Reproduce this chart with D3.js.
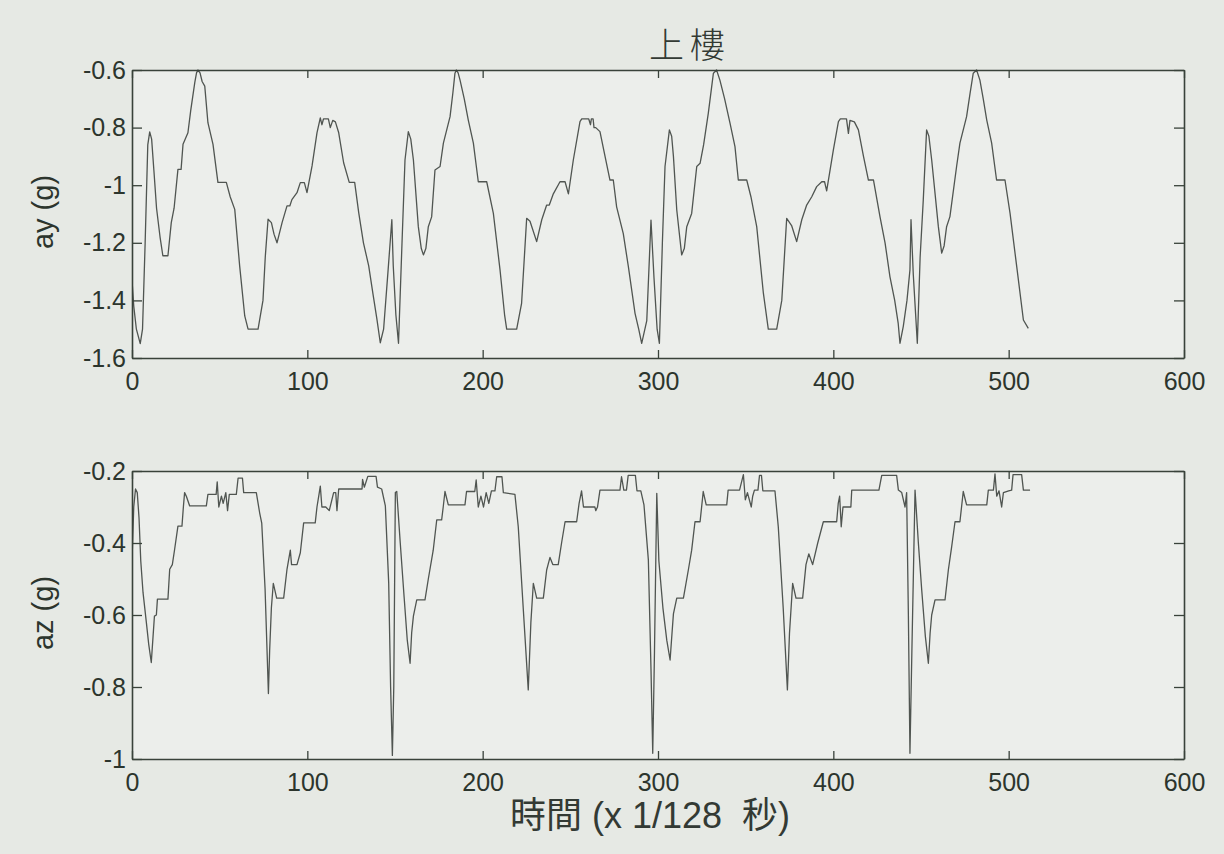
<!DOCTYPE html>
<html>
<head>
<meta charset="utf-8">
<script src="https://cdn.jsdelivr.net/npm/d3@7"></script>
<style>
  html, body { margin: 0; padding: 0; background: #e6e9e4; }
  svg { display: block; }
</style>
</head>
<body>
<svg id="chart" width="1224" height="854"></svg>
<script>
// Accelerometer trace while climbing stairs: vertices of the ay and az curves (sample index, g)
const ayX = [0,1,2.5,4.7,6,7.5,9,10.1,11.2,12.5,14,16,17.6,20.5,22.4,24,26.2,28,29.1,31.9,33.5,35.8,36.8,37.6,38.8,40,41.5,43.3,46.2,49,53.8,56,58.6,61.4,64.3,66.2,71.9,74.7,76,77.6,79.5,81,82.7,85.6,88.4,90,91.2,94.1,96,98.3,99.8,102.7,105.5,107.4,108.3,109.2,112,113.1,114.5,116,117.9,120.7,123.9,127,129.3,132,135,137.5,139.7,141.6,143.5,146,148.2,149,150.5,152,
  154,155.7,157.6,159,160.5,163.3,165,166.2,167.6,169,170.9,172.8,175.7,177.6,181.4,183,184.2,185,186,187.1,189.5,191.8,194.7,197.5,202.3,206.1,209.9,212.5,213.7,219.4,222.2,225.1,227,230.8,233.7,236.5,238,240.3,244.1,247,248.9,251.7,255.5,256.5,260.5,261.5,262,263,263.5,264.5,266.9,269.8,272.6,274.5,276.4,280.2,283.1,286.9,289,290.7,293.6,296,297.7,299.5,300.8,
  302.5,304,306.5,307.8,308.8,310.7,313.5,315,316.4,319.2,322.1,324,326,328.7,331.6,333.4,335.3,338,341.1,343.9,345.8,350.6,353,356.3,360.1,362.9,367.7,370.6,373.4,376.2,379.1,382,384.8,387.7,390.5,393.4,395,396.2,400,402.9,404,407.5,408.6,409.5,412,414.3,417.2,420,422.9,426.6,429.5,432.3,435,437,438,439.9,442,443.7,444.3,445.6,447.9,
  449.5,451.3,453.2,454.5,456.1,459.9,461.8,463.2,464.6,466.5,470.3,472.2,476,478,479.8,481.7,483.6,485.5,487.5,490.3,493.1,497.9,500.8,504.6,508.4,511.2];
const ayY = [-1.33,-1.42,-1.50,-1.55,-1.50,-1.20,-0.86,-0.815,-0.84,-0.95,-1.08,-1.18,-1.245,-1.245,-1.13,-1.08,-0.945,-0.945,-0.858,-0.818,-0.74,-0.644,-0.61,-0.60,-0.61,-0.64,-0.656,-0.783,-0.858,-0.99,-0.99,-1.04,-1.084,-1.28,-1.454,-1.50,-1.50,-1.40,-1.25,-1.118,-1.13,-1.17,-1.20,-1.13,-1.072,-1.072,-1.05,-1.026,-0.991,-0.991,-1.026,-0.933,-0.818,-0.766,-0.79,-0.77,-0.77,-0.80,-0.775,-0.78,-0.818,-0.922,-0.99,-0.99,-1.095,-1.20,-1.28,-1.38,-1.466,-1.547,-1.50,-1.30,-1.12,-1.28,-1.45,-1.549,
  -1.20,-0.9125,-0.814,-0.84,-0.9125,-1.144,-1.22,-1.242,-1.22,-1.144,-1.11,-0.947,-0.935,-0.854,-0.762,-0.68,-0.611,-0.60,-0.61,-0.635,-0.70,-0.774,-0.854,-0.988,-0.988,-1.098,-1.294,-1.45,-1.50,-1.50,-1.41,-1.115,-1.125,-1.196,-1.12,-1.069,-1.069,-1.03,-0.988,-0.988,-1.03,-0.9125,-0.779,-0.77,-0.77,-0.79,-0.77,-0.77,-0.80,-0.80,-0.814,-0.90,-0.982,-0.982,-1.075,-1.168,-1.283,-1.445,-1.50,-1.549,-1.47,-1.121,-1.32,-1.50,-1.549,
  -1.20,-0.935,-0.808,-0.83,-0.90,-1.086,-1.242,-1.22,-1.144,-1.098,-0.935,-0.924,-0.86,-0.75,-0.611,-0.60,-0.635,-0.70,-0.785,-0.866,-0.982,-0.982,-1.04,-1.144,-1.375,-1.50,-1.50,-1.40,-1.115,-1.14,-1.196,-1.12,-1.069,-1.04,-1.005,-0.988,-0.988,-1.02,-0.878,-0.779,-0.77,-0.77,-0.82,-0.775,-0.78,-0.808,-0.90,-0.982,-0.982,-1.109,-1.20,-1.318,-1.40,-1.48,-1.549,-1.49,-1.40,-1.294,-1.12,-1.31,-1.549,
  -1.25,-1.051,-0.808,-0.83,-0.9125,-1.144,-1.236,-1.21,-1.144,-1.109,-0.935,-0.854,-0.762,-0.68,-0.611,-0.60,-0.635,-0.70,-0.774,-0.854,-0.982,-0.982,-1.098,-1.283,-1.468,-1.497];

const azX = [0,1,2,3,4,5,6.3,8.2,9.5,11,12,12.8,13.9,14.5,20.5,21.5,23,24.3,26.2,28.5,29.3,30,31,32.9,42.4,43.3,48,48.6,49.5,51,52,53.5,54.5,55.5,59.5,60.5,63,63.7,70.9,72.8,74,75.9,77.8,78.5,79.5,80.6,82.5,86.5,88.4,90.3,91,94.1,96,97.9,104.5,105.5,106.5,107.4,108.3,110.5,112.5,114,115,116.2,116.9,117.9,131.2,131.5,132.5,134.5,139.2,140,142.4,144.5,146.4,147.5,148.5,149.3,150.2,
  151,153,155.2,157,158.6,159.5,160.5,162.4,167.1,169,171.8,173.8,176.6,177.5,178.5,180.4,189.9,190.8,195.5,196.3,197.5,199,200.5,202,203.5,205,207,208,211,211.8,218.4,220.3,223.2,226,227.5,228.9,230.8,234.6,236.5,238.4,240,243.1,245,247,253.6,255,256.4,257.5,264,264.5,265.5,266.9,278.3,279.2,280.5,282,283,287.1,288,290.2,292,294.5,296,297,298,299.3,
  300.5,302.8,305,306.9,308,308.8,310.7,314.5,317.3,319.2,321.1,324,325.8,327.5,339.2,340,346.5,348.7,349.8,351,353.2,354,355,357,357.9,359,359.8,366.7,368.6,371.4,373.8,375,376.8,378.7,382.5,384.4,386,388.2,391.1,394.3,401.9,402.8,403.6,404.5,405.5,410,410.5,426,427.6,436.1,437.1,439,440.9,441.8,442.8,443.7,444.8,446.6,
  448.5,450.4,452.5,454.2,455.2,456.1,458,463.7,465.6,467.5,469.4,472.2,474.1,476,487.5,488.4,491.3,492.2,493.2,494.5,496,497,500,501.7,502.5,507.4,508.4,512.2];
const azY = [-0.45,-0.30,-0.25,-0.26,-0.33,-0.45,-0.538,-0.621,-0.68,-0.732,-0.66,-0.603,-0.60,-0.556,-0.556,-0.473,-0.46,-0.418,-0.353,-0.353,-0.30,-0.26,-0.27,-0.297,-0.297,-0.265,-0.265,-0.23,-0.30,-0.27,-0.29,-0.26,-0.31,-0.265,-0.265,-0.22,-0.22,-0.26,-0.26,-0.316,-0.345,-0.528,-0.818,-0.70,-0.58,-0.512,-0.553,-0.553,-0.473,-0.42,-0.46,-0.46,-0.427,-0.344,-0.344,-0.30,-0.27,-0.242,-0.30,-0.30,-0.31,-0.28,-0.26,-0.26,-0.31,-0.25,-0.25,-0.223,-0.245,-0.215,-0.215,-0.245,-0.25,-0.297,-0.51,-0.80,-0.99,-0.80,-0.26,
  -0.257,-0.40,-0.55,-0.67,-0.734,-0.65,-0.603,-0.558,-0.558,-0.50,-0.42,-0.336,-0.336,-0.30,-0.257,-0.294,-0.294,-0.257,-0.257,-0.225,-0.30,-0.27,-0.30,-0.26,-0.29,-0.255,-0.255,-0.216,-0.216,-0.26,-0.265,-0.355,-0.586,-0.808,-0.62,-0.512,-0.553,-0.553,-0.475,-0.44,-0.46,-0.46,-0.40,-0.341,-0.341,-0.29,-0.255,-0.30,-0.30,-0.31,-0.30,-0.253,-0.253,-0.216,-0.253,-0.253,-0.212,-0.212,-0.255,-0.255,-0.294,-0.447,-0.75,-0.984,-0.70,-0.262,
  -0.45,-0.58,-0.67,-0.725,-0.65,-0.597,-0.553,-0.553,-0.475,-0.42,-0.341,-0.341,-0.257,-0.294,-0.294,-0.253,-0.253,-0.21,-0.28,-0.26,-0.30,-0.27,-0.253,-0.253,-0.212,-0.212,-0.255,-0.255,-0.355,-0.58,-0.808,-0.65,-0.512,-0.553,-0.553,-0.46,-0.43,-0.46,-0.40,-0.341,-0.341,-0.29,-0.27,-0.355,-0.30,-0.30,-0.253,-0.253,-0.212,-0.212,-0.253,-0.26,-0.30,-0.26,-0.60,-0.984,-0.70,-0.253,
  -0.40,-0.53,-0.66,-0.734,-0.65,-0.60,-0.558,-0.558,-0.475,-0.41,-0.341,-0.341,-0.257,-0.294,-0.294,-0.253,-0.253,-0.208,-0.27,-0.255,-0.30,-0.26,-0.255,-0.253,-0.21,-0.21,-0.253,-0.253];

// Axis ticks and labels
const xTicks = [0, 100, 200, 300, 400, 500, 600];
const ayTicks = [-1.6, -1.4, -1.2, -1, -0.8, -0.6];
const azTicks = [-1, -0.8, -0.6, -0.4, -0.2];
const titleText = "上樓";
const xLabelText = "時間 (x 1/128  秒)";
const ayLabel = "ay (g)";
const azLabel = "az (g)";

const svg = d3.select("#chart");

const panels = [
  { xs: ayX, ys: ayY, ticks: ayTicks, domain: [-1.6, -0.6], label: ayLabel, top: 70, bottom: 358 },
  { xs: azX, ys: azY, ticks: azTicks, domain: [-1, -0.2], label: azLabel, top: 471, bottom: 759 }
];
const left = 132, right = 1184;

const axisColor = "#39423a";
const textColor = "#2c352d";
const lineColor = "#505551";

const x = d3.scaleLinear().domain([0, 600]).range([left, right]);

panels.forEach((p, i) => {
  const y = d3.scaleLinear().domain(p.domain).range([p.bottom, p.top]);
  const g = svg.append("g");

  g.append("rect")
    .attr("x", left).attr("y", p.top)
    .attr("width", right - left).attr("height", p.bottom - p.top)
    .attr("fill", "#eceeeb");

  const clipId = "clip" + i;
  svg.append("clipPath").attr("id", clipId)
    .append("rect").attr("x", left).attr("y", p.top - 1)
    .attr("width", right - left).attr("height", p.bottom - p.top + 2);

  const pts = p.xs.map((v, k) => [v, p.ys[k]]);
  const line = d3.line().x(d => x(d[0])).y(d => y(d[1]));
  g.append("path")
    .datum(pts)
    .attr("clip-path", `url(#${clipId})`)
    .attr("d", line)
    .attr("fill", "none")
    .attr("stroke", lineColor)
    .attr("stroke-width", 1.3)
    .attr("stroke-linejoin", "round");

  // inward ticks on all four sides, MATLAB style
  const axB = d3.axisBottom(x).tickValues(xTicks).tickSizeInner(-8).tickSizeOuter(0).tickPadding(14).tickFormat(d3.format("d"));
  const axT = d3.axisTop(x).tickValues(xTicks).tickSizeInner(-8).tickSizeOuter(0).tickFormat("");
  const fmt = d => String(+d.toFixed(1));
  const axL = d3.axisLeft(y).tickValues(p.ticks).tickSizeInner(-10).tickSizeOuter(0).tickPadding(6).tickFormat(fmt);
  const axR = d3.axisRight(y).tickValues(p.ticks).tickSizeInner(-10).tickSizeOuter(0).tickFormat("");

  const styleAxis = sel => {
    sel.select(".domain").attr("stroke", axisColor).attr("stroke-width", 1.6);
    sel.selectAll(".tick line").attr("stroke", axisColor).attr("stroke-width", 1.3);
    sel.selectAll(".tick text")
      .attr("fill", textColor)
      .style("font-family", "'Liberation Sans', Arial, sans-serif")
      .style("font-size", "25px");
  };

  g.append("g").attr("transform", `translate(0,${p.bottom})`).call(axB).call(styleAxis);
  g.append("g").attr("transform", `translate(0,${p.top})`).call(axT).call(styleAxis);
  g.append("g").attr("transform", `translate(${left},0)`).call(axL).call(styleAxis);
  g.append("g").attr("transform", `translate(${right},0)`).call(axR).call(styleAxis);

  g.append("text")
    .attr("transform", `translate(53,${(p.top + p.bottom) / 2 - 2}) rotate(-90)`)
    .attr("text-anchor", "middle")
    .attr("fill", textColor)
    .style("font-family", "'Liberation Sans', Arial, sans-serif")
    .style("font-size", "29px")
    .text(p.label);
});

svg.append("text")
  .attr("x", 690).attr("y", 58)
  .attr("text-anchor", "middle")
  .attr("fill", "#333a34")
  .style("font-family", "'Noto Sans CJK TC', sans-serif")
  .style("font-size", "35px")
  .style("font-weight", "300")
  .style("letter-spacing", "6px")
  .text(titleText);

svg.append("text")
  .attr("x", 650).attr("y", 828)
  .attr("text-anchor", "middle")
  .attr("fill", "#333a34")
  .style("font-family", "'Liberation Sans', 'Noto Sans CJK TC', sans-serif")
  .style("font-size", "36px")
  .style("white-space", "pre")
  .attr("xml:space", "preserve")
  .text(xLabelText);
</script>
</body>
</html>
